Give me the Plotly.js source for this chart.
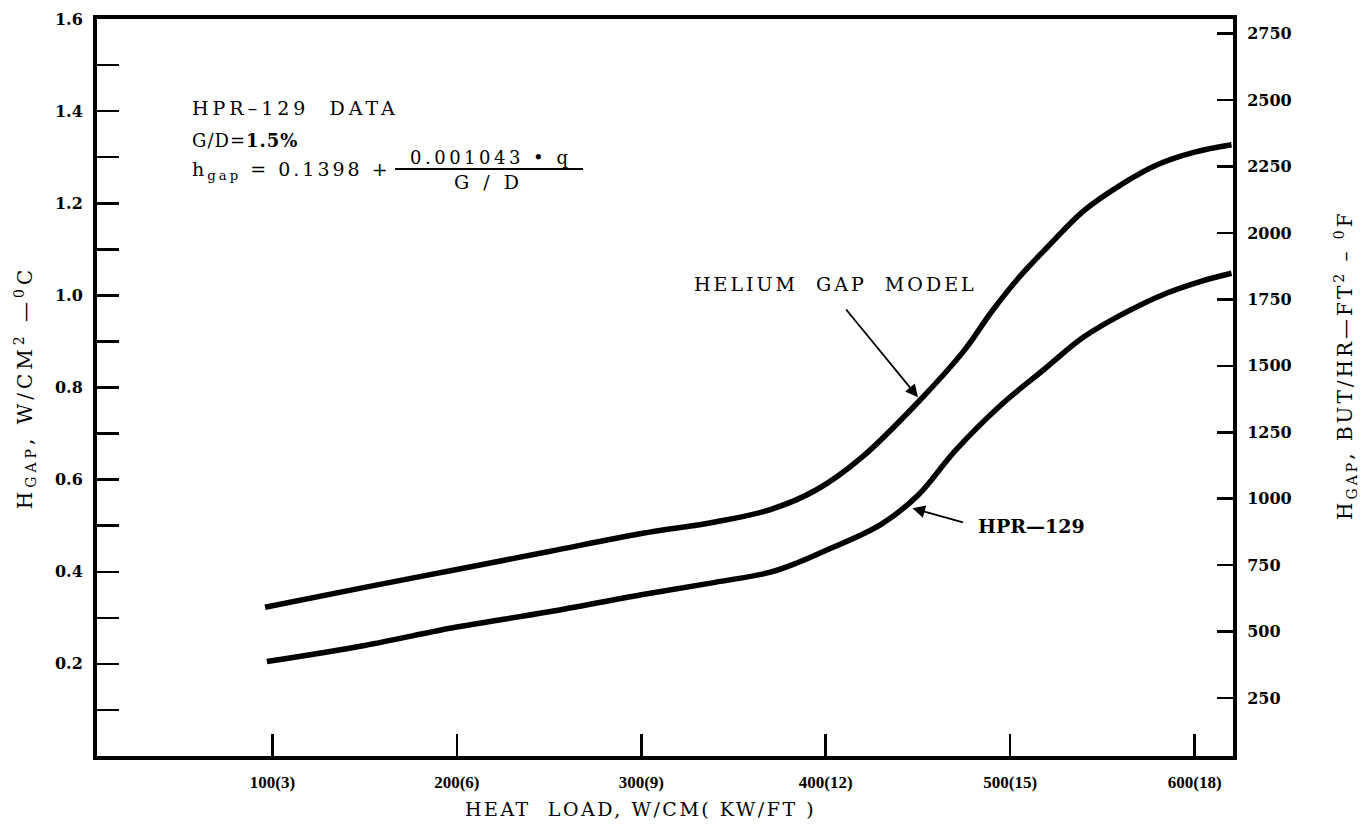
<!DOCTYPE html>
<html>
<head>
<meta charset="utf-8">
<script src="https://cdn.plot.ly/plotly-3.0.1.min.js"></script>
<style>
  html, body { margin: 0; padding: 0; background: #fff; }
  #chart { width: 1367px; height: 834px; }
</style>
</head>
<body>
<div id="chart"></div>
<script>
// Heat load, W/cm — helium gap model curve
const heliumGapLoad = [96, 150, 200, 250, 300, 340, 370, 395, 420, 450, 475, 490, 505, 520, 540, 560, 580, 600, 620];
// Gap conductance, W/cm^2-C — helium gap model curve
const heliumGapH = [0.323, 0.366, 0.405, 0.444, 0.483, 0.508, 0.535, 0.578, 0.650, 0.768, 0.880, 0.965, 1.040, 1.104, 1.184, 1.240, 1.284, 1.311, 1.327];

// Heat load, W/cm — HPR-129 data curve
const hprLoad = [97, 150, 200, 250, 300, 340, 370, 385, 400, 430, 450, 470, 495, 518, 540, 565, 585, 603, 620];
// Gap conductance, W/cm^2-C — HPR-129 data curve
const hprH = [0.205, 0.240, 0.280, 0.313, 0.350, 0.377, 0.399, 0.420, 0.446, 0.503, 0.566, 0.662, 0.762, 0.838, 0.910, 0.968, 1.005, 1.030, 1.048];

const xTickVals = [100, 200, 300, 400, 500, 600];
const xTickText = ['100(3)', '200(6)', '300(9)', '400(12)', '500(15)', '600(18)'];
const yTickVals = [0.2, 0.4, 0.6, 0.8, 1.0, 1.2, 1.4, 1.6];
const yTickText = ['0.2', '0.4', '0.6', '0.8', '1.0', '1.2', '1.4', '1.6'];
const y2TickVals = [250, 500, 750, 1000, 1250, 1500, 1750, 2000, 2250, 2500, 2750];

// plot box in page pixels
const L = 97, R = 1233, T = 19, B = 756;
const px = v => (v - L) / (R - L);
const py = v => 1 - (v - T) / (B - T);

const serif = 'DejaVu Serif';
// typewriter-like tracking for the lettering
const spaced = (s, n, size) =>
  '<span style="letter-spacing:' + n + 'px;font-size:' + size + 'px">' + s + '</span>';
const yTickFont = { family: 'DejaVu Serif', size: 16, color: '#000', weight: 'bold' };

const curveLine = { color: '#000', width: 5.5, shape: 'spline', smoothing: 1 };
const arrowStyle = { showarrow: true, arrowhead: 2, arrowsize: 1.4, arrowwidth: 1.8, arrowcolor: '#000' };

const data = [
  { x: heliumGapLoad, y: heliumGapH, type: 'scatter', mode: 'lines', line: curveLine,
    name: 'HELIUM GAP MODEL', hoverinfo: 'x+y' },
  { x: hprLoad, y: hprH, type: 'scatter', mode: 'lines', line: curveLine,
    name: 'HPR-129', hoverinfo: 'x+y' },
  // carries the BTU/hr-ft2-F scale on the right
  { x: [null], y: [null], yaxis: 'y2', type: 'scatter', mode: 'lines', hoverinfo: 'skip', showlegend: false }
];

const layout = {
  width: 1367, height: 834,
  margin: { l: L, r: 1367 - R, t: T, b: 834 - B, pad: 0 },
  paper_bgcolor: '#fff', plot_bgcolor: '#fff',
  showlegend: false,
  font: { family: serif, color: '#000' },
  xaxis: {
    range: [4.9, 620.8], showgrid: false, zeroline: false,
    showline: true, linecolor: '#000', linewidth: 4, mirror: true,
    ticks: 'inside', ticklen: 22, tickwidth: 2.5, tickcolor: '#000',
    tickvals: xTickVals, ticktext: xTickText,
    tickfont: { family: 'Liberation Serif', size: 17, color: '#000', weight: 'bold' },
    ticklabelstandoff: 8
  },
  yaxis: {
    range: [0, 1.6], showgrid: false, zeroline: false,
    showline: true, linecolor: '#000', linewidth: 4,
    ticks: 'inside', ticklen: 22, tickwidth: 2.5, tickcolor: '#000',
    tickvals: yTickVals, ticktext: yTickText, tickfont: yTickFont,
    ticklabelstandoff: 7,
    minor: { dtick: 0.1, tick0: 0.1, ticks: 'inside', ticklen: 22, tickwidth: 2.5, tickcolor: '#000' },
    title: { text: spaced('H<sub>GAP</sub>, W/CM<sup>2</sup> —<sup>0</sup>C', 4, 20),
             font: { family: serif, size: 20, color: '#000' }, standoff: 18 }
  },
  yaxis2: {
    overlaying: 'y', side: 'right', range: [32, 2805],
    showgrid: false, zeroline: false,
    showline: true, linecolor: '#000', linewidth: 4,
    ticks: 'inside', ticklen: 16, tickwidth: 2.5, tickcolor: '#000',
    tickvals: y2TickVals, tickfont: yTickFont, ticklabelstandoff: 7
  },
  shapes: [
    // fraction bar of the correlation
    { type: 'line', xref: 'paper', yref: 'paper', x0: px(395), x1: px(583), y0: py(169), y1: py(169),
      line: { color: '#000', width: 1.8 } }
  ],
  annotations: [
    // x axis title
    { xref: 'paper', yref: 'paper', x: px(640), y: py(809), xanchor: 'center', yanchor: 'middle', showarrow: false,
      text: spaced('HEAT\u00a0\u00a0LOAD, W/CM(\u00a0KW/FT\u00a0)', 2.5, 19), font: { family: serif, size: 19, color: '#000' } },
    // right axis title
    { xref: 'paper', yref: 'paper', x: px(1345), y: py(365), xanchor: 'center', yanchor: 'middle', showarrow: false,
      textangle: -90,
      text: spaced('H<sub>GAP</sub>, BUT/HR—FT<sup>2</sup> – <sup>0</sup>F', 3, 20), font: { family: serif, size: 20, color: '#000' } },
    // correlation block
    { xref: 'paper', yref: 'paper', x: px(190), y: py(108), xanchor: 'left', yanchor: 'middle', showarrow: false,
      text: spaced('HPR–129\u00a0\u00a0DATA', 4, 19), font: { family: serif, size: 19, color: '#000' } },
    { xref: 'paper', yref: 'paper', x: px(190), y: py(140), xanchor: 'left', yanchor: 'middle', showarrow: false,
      text: spaced('G/D=<b>1.5%</b>', 1, 18), font: { family: serif, size: 18, color: '#000' } },
    { xref: 'paper', yref: 'paper', x: px(190), y: py(170), xanchor: 'left', yanchor: 'middle', showarrow: false,
      text: spaced('h<sub>gap</sub> = 0.1398 +', 3, 19), font: { family: serif, size: 19, color: '#000' } },
    { xref: 'paper', yref: 'paper', x: px(490), y: py(157), xanchor: 'center', yanchor: 'middle', showarrow: false,
      text: spaced('0.001043 • q', 3.5, 18), font: { family: serif, size: 18, color: '#000' } },
    { xref: 'paper', yref: 'paper', x: px(488), y: py(182), xanchor: 'center', yanchor: 'middle', showarrow: false,
      text: spaced('G / D', 4, 19), font: { family: serif, size: 19, color: '#000' } },
    // curve labels with pointers to their curves
    Object.assign({
      xref: 'x', yref: 'y', x: 450, y: 0.779, axref: 'pixel', ayref: 'pixel', ax: -82, ay: -100,
      xanchor: 'center', yanchor: 'bottom', startstandoff: 16,
      text: spaced('HELIUM\u00a0\u00a0GAP\u00a0\u00a0MODEL', 3, 19), font: { family: serif, size: 19, color: '#000' }
    }, arrowStyle),
    Object.assign({
      xref: 'x', yref: 'y', x: 447, y: 0.538, axref: 'pixel', ayref: 'pixel', ax: 64, ay: 18,
      xanchor: 'left', yanchor: 'middle', startstandoff: 14,
      text: 'HPR—129', font: { family: serif, size: 19, color: '#000', weight: 'bold' }
    }, arrowStyle)
  ]
};

Plotly.newPlot('chart', data, layout, { displayModeBar: false, staticPlot: true });
</script>
</body>
</html>
